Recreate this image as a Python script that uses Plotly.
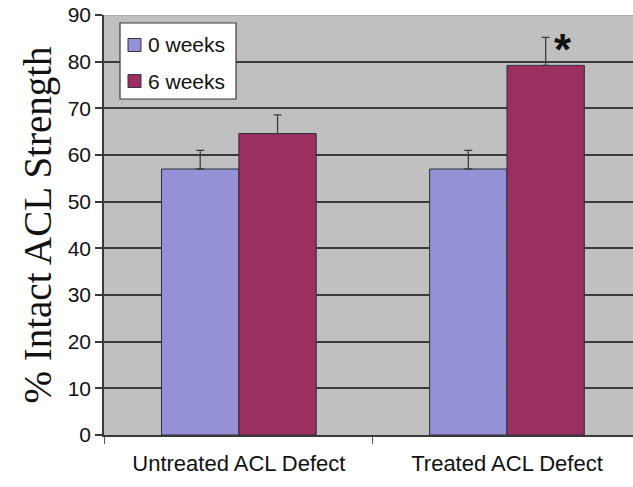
import plotly.graph_objects as go

# ACL repair strength, % of intact ligament (mean + SD)
groups = ["Untreated ACL Defect", "Treated ACL Defect"]
series_names = ["0 weeks", "6 weeks"]
week0_mean = [57, 57]
week0_sd = [4, 4]
week6_mean = [64.6, 79.2]
week6_sd = [4, 6]
y_ticks = [0, 10, 20, 30, 40, 50, 60, 70, 80, 90]

colors = ["#9591d6", "#9a2f60"]
edge = "#2e2e3a"
sans = "Liberation Sans, Arial, sans-serif"

W, H = 633, 487
M = dict(l=104, r=0, t=15, b=52)


def px_x(p):
    """pixel column -> paper x"""
    return (p - M["l"]) / (W - M["l"] - M["r"])


def px_y(p):
    """pixel row -> paper y"""
    return 1 - (p - M["t"]) / (H - M["t"] - M["b"])


fig = go.Figure()
for name, means, sds, col in [
    (series_names[0], week0_mean, week0_sd, colors[0]),
    (series_names[1], week6_mean, week6_sd, colors[1]),
]:
    fig.add_trace(go.Bar(
        name=name, x=groups, y=means, showlegend=False,
        marker=dict(color=col, line=dict(color=edge, width=1)),
        error_y=dict(type="data", array=sds, symmetric=False,
                     arrayminus=[0] * len(sds), color="#3c3c3c",
                     thickness=1.3, width=4),
    ))

# significance marker over the treated 6-week bar
fig.add_annotation(x=groups[1], y=week6_mean[1] + week6_sd[1], xref="x", yref="y",
                   text="<b>*</b>", showarrow=False, xshift=56, yshift=-12,
                   font=dict(family=sans, size=44, color="#111111"))

# lighter upper border of the plotting area
fig.add_shape(type="line", xref="paper", yref="y", x0=0, x1=1, y0=90, y1=90,
              line=dict(color="#a9a9a9", width=1.5), layer="above")

# boxed legend in the upper-left corner of the plot
fig.add_shape(type="rect", xref="paper", yref="paper",
              x0=px_x(120), x1=px_x(236), y0=px_y(99), y1=px_y(23),
              fillcolor="white", line=dict(color="#3a3a3a", width=1.2), layer="above")
for i, (name, col) in enumerate(zip(series_names, colors)):
    cy = 45 + 36 * i
    fig.add_shape(type="rect", xref="paper", yref="paper",
                  x0=px_x(128), x1=px_x(141), y0=px_y(cy + 6.5), y1=px_y(cy - 6.5),
                  fillcolor=col, line=dict(color="#33334a", width=1), layer="above")
    fig.add_annotation(x=px_x(146), y=px_y(cy), xref="paper", yref="paper",
                       text=name, showarrow=False, xanchor="left", yanchor="middle",
                       font=dict(family=sans, size=21, color="#111111"))

fig.update_layout(
    width=W, height=H,
    margin=M,
    paper_bgcolor="white", plot_bgcolor="#c0c0c0",
    barmode="group", bargap=0.423, bargroupgap=0,
    showlegend=False,
    xaxis=dict(range=[-0.503, 1.47], showgrid=False, showline=True,
               linecolor="#3a3a3a", linewidth=1.5, ticks="outside",
               tickson="boundaries", ticklen=7, tickcolor="#555555",
               ticklabelstandoff=8,
               tickfont=dict(family=sans, size=22, color="#111111"),
               zeroline=False),
    yaxis=dict(range=[0, 90], tickvals=y_ticks, showgrid=True,
               gridcolor="#3a3a3a", gridwidth=1.6, showline=True,
               linecolor="#3a3a3a", linewidth=1.5, ticks="outside",
               ticklen=7, tickcolor="#3a3a3a", tickwidth=1.5,
               tickfont=dict(family=sans, size=21, color="#111111"),
               zeroline=False,
               title=dict(text="% Intact ACL Strength", standoff=4,
                          font=dict(family="Liberation Serif, Times New Roman, serif",
                                    size=39, color="#111111"))),
)

fig.write_html("out.html")
